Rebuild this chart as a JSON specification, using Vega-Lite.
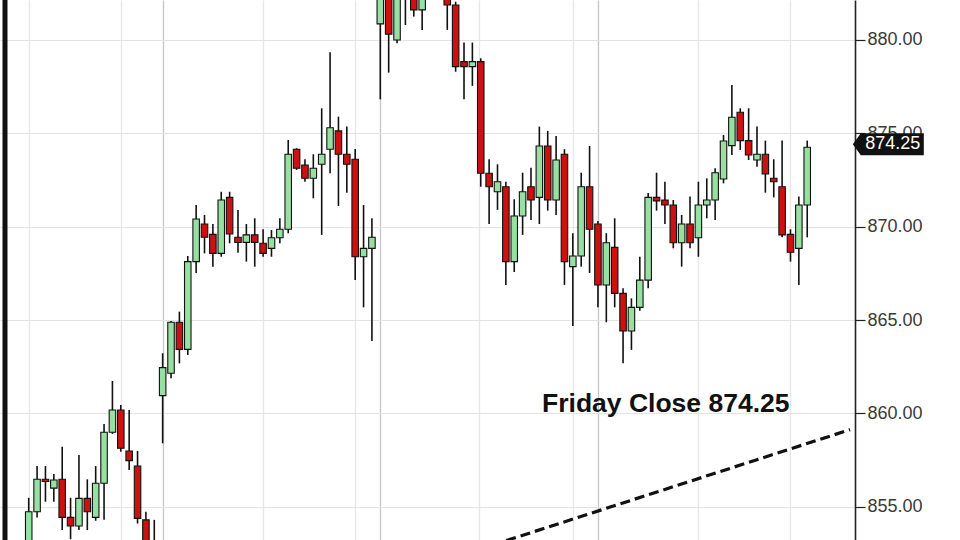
{
  "$schema": "https://vega.github.io/schema/vega-lite/v6.json",
  "width": 855,
  "height": 540,
  "autosize": {"type": "none"},
  "padding": {"left": 0, "top": 0, "right": 105, "bottom": 0},
  "background": "white",
  "config": {"view": {"stroke": null}, "font": "Liberation Sans"},
  "datasets": {
    "candles": [
      {"i":0,"o":853.0,"h":855.48,"l":852.5,"c":854.73},
      {"i":1,"o":854.73,"h":857.18,"l":854.43,"c":856.47},
      {"i":2,"o":856.47,"h":857.18,"l":855.27,"c":856.35},
      {"i":3,"o":856.0,"h":856.75,"l":855.27,"c":856.43},
      {"i":4,"o":856.47,"h":858.22,"l":853.75,"c":854.43},
      {"i":5,"o":854.43,"h":855.48,"l":853.26,"c":853.97},
      {"i":6,"o":853.97,"h":857.77,"l":853.75,"c":855.45},
      {"i":7,"o":855.45,"h":856.47,"l":853.75,"c":854.73},
      {"i":8,"o":854.43,"h":857.18,"l":854.25,"c":856.26},
      {"i":9,"o":856.26,"h":859.43,"l":854.3,"c":858.99},
      {"i":10,"o":858.99,"h":861.74,"l":858.9,"c":860.18},
      {"i":11,"o":860.18,"h":860.45,"l":857.95,"c":858.13},
      {"i":12,"o":857.99,"h":860.18,"l":856.97,"c":857.47},
      {"i":13,"o":857.18,"h":857.99,"l":854.1,"c":854.38},
      {"i":14,"o":854.3,"h":854.73,"l":852.0,"c":852.6},
      {"i":15,"o":852.6,"h":854.3,"l":851.5,"c":852.2},
      {"i":16,"o":860.95,"h":863.22,"l":858.4,"c":862.45},
      {"i":17,"o":862.15,"h":864.95,"l":861.88,"c":864.88},
      {"i":18,"o":864.88,"h":865.45,"l":862.68,"c":863.43},
      {"i":19,"o":863.43,"h":868.43,"l":863.13,"c":868.13},
      {"i":20,"o":868.13,"h":871.16,"l":867.52,"c":870.41},
      {"i":21,"o":870.14,"h":870.63,"l":868.57,"c":869.43},
      {"i":22,"o":869.59,"h":870.14,"l":867.86,"c":868.57},
      {"i":23,"o":868.57,"h":871.87,"l":868.39,"c":871.43},
      {"i":24,"o":871.57,"h":871.87,"l":869.11,"c":869.61},
      {"i":25,"o":869.43,"h":870.9,"l":868.6,"c":869.15},
      {"i":26,"o":869.16,"h":870.14,"l":868.13,"c":869.56},
      {"i":27,"o":869.56,"h":870.45,"l":867.86,"c":869.16},
      {"i":28,"o":869.11,"h":869.86,"l":868.39,"c":868.57},
      {"i":29,"o":868.84,"h":869.82,"l":868.39,"c":869.41},
      {"i":30,"o":869.41,"h":870.45,"l":869.11,"c":869.86},
      {"i":31,"o":869.86,"h":874.64,"l":869.65,"c":873.88},
      {"i":32,"o":874.15,"h":874.2,"l":873.04,"c":873.13},
      {"i":33,"o":873.3,"h":873.61,"l":872.41,"c":872.59},
      {"i":34,"o":872.59,"h":873.88,"l":871.52,"c":873.13},
      {"i":35,"o":873.34,"h":876.34,"l":869.56,"c":873.88},
      {"i":36,"o":874.15,"h":879.34,"l":872.86,"c":875.3},
      {"i":37,"o":875.13,"h":875.89,"l":871.11,"c":873.88},
      {"i":38,"o":873.88,"h":875.36,"l":871.82,"c":873.34},
      {"i":39,"o":873.61,"h":874.16,"l":867.14,"c":868.39},
      {"i":40,"o":868.39,"h":871.16,"l":865.68,"c":868.84},
      {"i":41,"o":868.84,"h":870.45,"l":863.88,"c":869.43},
      {"i":42,"o":880.86,"h":884.0,"l":876.82,"c":883.0},
      {"i":43,"o":882.6,"h":883.2,"l":878.25,"c":880.31},
      {"i":44,"o":880.0,"h":883.2,"l":879.82,"c":882.6},
      {"i":45,"o":883.2,"h":883.6,"l":880.8,"c":882.6},
      {"i":46,"o":883.0,"h":883.5,"l":881.25,"c":881.61},
      {"i":47,"o":881.61,"h":883.2,"l":880.54,"c":882.6},
      {"i":48,"o":882.6,"h":883.8,"l":882.4,"c":883.4},
      {"i":49,"o":883.4,"h":884.0,"l":882.3,"c":882.8},
      {"i":50,"o":883.0,"h":883.5,"l":880.54,"c":881.87},
      {"i":51,"o":881.87,"h":882.05,"l":878.3,"c":878.57},
      {"i":52,"o":878.84,"h":879.86,"l":876.82,"c":878.57},
      {"i":53,"o":878.57,"h":879.86,"l":877.54,"c":878.84},
      {"i":54,"o":878.84,"h":879.02,"l":872.14,"c":872.86},
      {"i":55,"o":872.86,"h":873.61,"l":870.14,"c":872.14},
      {"i":56,"o":871.87,"h":873.34,"l":870.9,"c":872.41},
      {"i":57,"o":872.14,"h":872.41,"l":866.88,"c":868.13},
      {"i":58,"o":868.13,"h":871.47,"l":867.57,"c":870.57},
      {"i":59,"o":870.57,"h":872.89,"l":869.56,"c":871.87},
      {"i":60,"o":872.14,"h":873.16,"l":870.36,"c":871.43},
      {"i":61,"o":871.57,"h":875.36,"l":870.14,"c":874.32},
      {"i":62,"o":874.32,"h":875.13,"l":870.86,"c":871.43},
      {"i":63,"o":871.43,"h":874.86,"l":870.63,"c":873.57},
      {"i":64,"o":873.88,"h":874.15,"l":866.88,"c":868.13},
      {"i":65,"o":867.86,"h":869.65,"l":864.68,"c":868.43},
      {"i":66,"o":868.43,"h":872.89,"l":867.86,"c":872.14},
      {"i":67,"o":872.14,"h":874.32,"l":867.52,"c":869.86},
      {"i":68,"o":870.14,"h":870.3,"l":865.68,"c":866.88},
      {"i":69,"o":866.88,"h":869.65,"l":864.88,"c":869.14},
      {"i":70,"o":868.89,"h":870.45,"l":865.68,"c":866.43},
      {"i":71,"o":866.43,"h":866.7,"l":862.68,"c":864.41},
      {"i":72,"o":864.41,"h":866.16,"l":863.4,"c":865.68},
      {"i":73,"o":865.68,"h":868.39,"l":865.5,"c":867.14},
      {"i":74,"o":867.14,"h":871.8,"l":866.7,"c":871.57},
      {"i":75,"o":871.57,"h":872.89,"l":870.86,"c":871.38},
      {"i":76,"o":871.43,"h":872.41,"l":870.14,"c":871.16},
      {"i":77,"o":871.16,"h":871.43,"l":868.84,"c":869.14},
      {"i":78,"o":869.14,"h":870.63,"l":867.86,"c":870.14},
      {"i":79,"o":870.14,"h":871.61,"l":868.84,"c":869.14},
      {"i":80,"o":869.41,"h":872.41,"l":868.39,"c":871.16},
      {"i":81,"o":871.16,"h":872.59,"l":870.45,"c":871.43},
      {"i":82,"o":871.43,"h":873.13,"l":870.36,"c":872.89},
      {"i":83,"o":872.55,"h":874.91,"l":872.32,"c":874.59},
      {"i":84,"o":874.34,"h":877.59,"l":873.84,"c":875.86},
      {"i":85,"o":876.13,"h":876.34,"l":874.11,"c":874.61},
      {"i":86,"o":874.61,"h":876.34,"l":873.57,"c":873.84},
      {"i":87,"o":873.57,"h":875.36,"l":873.21,"c":873.88},
      {"i":88,"o":873.88,"h":874.61,"l":871.82,"c":872.82},
      {"i":89,"o":872.59,"h":873.61,"l":871.57,"c":872.41},
      {"i":90,"o":872.14,"h":874.61,"l":869.43,"c":869.56},
      {"i":91,"o":869.59,"h":869.86,"l":868.13,"c":868.63},
      {"i":92,"o":868.84,"h":871.61,"l":866.88,"c":871.16},
      {"i":93,"o":871.16,"h":874.61,"l":869.43,"c":874.25}
    ],
    "trend": [
      {"i": 40, "v": 850.72},
      {"i": 98.11, "v": 859.13}
    ],
    "note": [
      {"i": 76.1, "v": 860.09, "t": "Friday Close 874.25"}
    ],
    "last": [
      {"price": 874.25, "t": "874.25"}
    ]
  },
  "layer": [
    {
      "data": {"name": "candles"},
      "mark": {"type": "rule", "color": "#111111", "strokeWidth": 1.6, "clip": true},
      "encoding": {
        "x": {
          "field": "i", "type": "quantitative",
          "scale": {"domain": [-2.833, 98.11], "nice": false, "zero": false},
          "axis": {
            "orient": "bottom", "title": null, "labels": false, "ticks": false, "domain": false,
            "values": [0, 11, 16, 28, 39, 42, 53.85, 65, 68, 80, 91],
            "grid": true, "gridWidth": 1.3, "zindex": 0,
            "gridColor": {"condition": {"test": "datum.value == 16 || datum.value == 42 || datum.value == 68", "value": "#c6c6c6"}, "value": "#e6e6e6"}
          }
        },
        "y": {
          "field": "l", "type": "quantitative",
          "scale": {"domain": [853.22, 882.14], "nice": false, "zero": false},
          "axis": {
            "orient": "right", "title": null, "values": [855, 860, 865, 870, 875, 880], "format": ".2f",
            "labelFont": "Liberation Sans", "labelFontSize": 18, "labelColor": "#3a3a3a", "labelPadding": 2,
            "tickSize": 10, "tickColor": "#222222", "tickWidth": 1.2,
            "domainColor": "#222222", "domainWidth": 1.6,
            "grid": true, "gridColor": "#e3e3e3", "gridWidth": 1.2, "zindex": 0
          }
        },
        "y2": {"field": "h"}
      }
    },
    {
      "data": {"name": "candles"},
      "mark": {"type": "bar", "width": 6.5, "stroke": "#111111", "strokeWidth": 1.1, "clip": true},
      "encoding": {
        "x": {"field": "i", "type": "quantitative"},
        "y": {"field": "o", "type": "quantitative"},
        "y2": {"field": "c"},
        "fill": {"condition": {"test": "datum.c >= datum.o", "value": "#98e0a2"}, "value": "#cc1111"}
      }
    },
    {
      "data": {"name": "trend"},
      "mark": {"type": "line", "color": "#111111", "strokeWidth": 3.2, "strokeDash": [10, 5], "clip": true},
      "encoding": {
        "x": {"field": "i", "type": "quantitative"},
        "y": {"field": "v", "type": "quantitative"}
      }
    },
    {
      "data": {"name": "note"},
      "mark": {"type": "text", "fontSize": 26.5, "fontWeight": "bold", "font": "Liberation Sans", "align": "center", "baseline": "alphabetic", "color": "#111111"},
      "encoding": {
        "x": {"field": "i", "type": "quantitative"},
        "y": {"field": "v", "type": "quantitative"},
        "text": {"field": "t"}
      }
    },
    {
      "data": {"values": [{}]},
      "mark": {"type": "rule", "color": "#111111", "strokeWidth": 5, "clip": true},
      "encoding": {
        "x": {"datum": -2.833, "type": "quantitative"}
      }
    },
    {
      "data": {"name": "last"},
      "mark": {"type": "point", "shape": "M-1,0L-0.775,-0.31L1,-0.31L1,0.31L-0.775,0.31Z", "size": 5041, "filled": true, "color": "#111111", "opacity": 1, "clip": false, "yOffset": -3},
      "encoding": {
        "x": {"datum": 102.69, "type": "quantitative"},
        "y": {"field": "price", "type": "quantitative"}
      }
    },
    {
      "data": {"name": "last"},
      "mark": {"type": "text", "fontSize": 18, "font": "Liberation Sans", "align": "center", "baseline": "middle", "color": "#ffffff", "clip": false, "yOffset": -3},
      "encoding": {
        "x": {"datum": 103.23, "type": "quantitative"},
        "y": {"field": "price", "type": "quantitative"},
        "text": {"field": "t"}
      }
    }
  ]
}
